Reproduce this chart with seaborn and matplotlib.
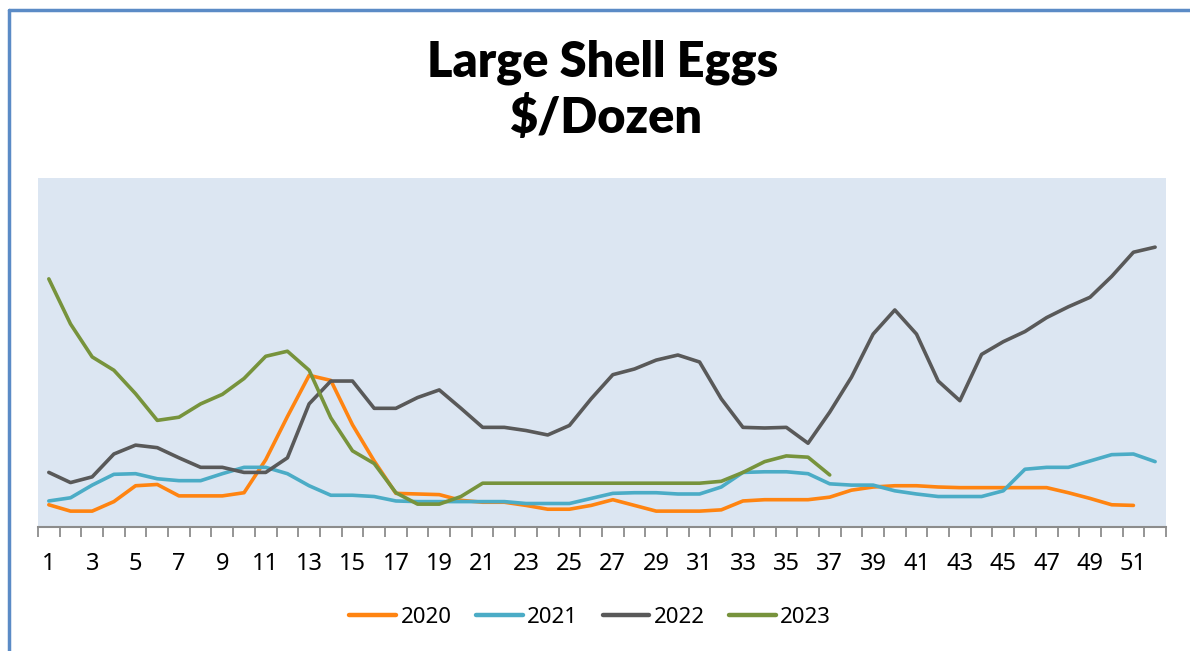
import numpy as np
import pandas as pd
import matplotlib
matplotlib.use("Agg")
import matplotlib.pyplot as plt
import seaborn as sns
from matplotlib.lines import Line2D

#--------------------DATA ($/dozen)------------------

weeks = list(range(1, 53))

eggs_2020 = [0.85, 0.75, 0.75, 0.90, 1.15, 1.17, 0.99, 0.99, 0.99, 1.04,
             1.56, 2.24, 2.89, 2.81, 2.11, 1.54, 1.03, 1.02, 1.01, 0.92,
             0.89, 0.89, 0.84, 0.78, 0.78, 0.84, 0.93, 0.84, 0.75, 0.75,
             0.75, 0.77, 0.91, 0.93, 0.93, 0.93, 0.97, 1.08, 1.13, 1.15,
             1.15, 1.13, 1.12, 1.12, 1.12, 1.12, 1.12, 1.04, 0.95, 0.85,
             0.84]

eggs_2021 = [0.91, 0.96, 1.16, 1.33, 1.34, 1.26, 1.23, 1.23, 1.34, 1.44,
             1.44, 1.34, 1.15, 1.00, 1.00, 0.98, 0.91, 0.90, 0.90, 0.90,
             0.90, 0.90, 0.87, 0.87, 0.87, 0.95, 1.03, 1.04, 1.04, 1.02,
             1.02, 1.13, 1.36, 1.37, 1.37, 1.34, 1.18, 1.16, 1.16, 1.07,
             1.02, 0.98, 0.98, 0.98, 1.07, 1.41, 1.44, 1.44, 1.54, 1.64,
             1.65, 1.53]

eggs_2022 = [1.36, 1.20, 1.29, 1.65, 1.79, 1.75, 1.59, 1.44, 1.44, 1.36,
             1.36, 1.59, 2.44, 2.80, 2.80, 2.37, 2.37, 2.54, 2.66, 2.37,
             2.07, 2.07, 2.02, 1.95, 2.10, 2.52, 2.90, 2.99, 3.13, 3.21,
             3.10, 2.52, 2.07, 2.06, 2.07, 1.82, 2.31, 2.86, 3.54, 3.92,
             3.54, 2.80, 2.49, 3.22, 3.42, 3.58, 3.80, 3.97, 4.12, 4.45,
             4.83, 4.91]

eggs_2023 = [4.41, 3.70, 3.18, 2.97, 2.60, 2.18, 2.23, 2.44, 2.59, 2.84,
             3.19, 3.27, 2.97, 2.22, 1.70, 1.50, 1.04, 0.86, 0.86, 0.98,
             1.19, 1.19, 1.19, 1.19, 1.19, 1.19, 1.19, 1.19, 1.19, 1.19,
             1.19, 1.22, 1.36, 1.53, 1.62, 1.60, 1.32]

years = ["2020", "2021", "2022", "2023"]
series = [eggs_2020, eggs_2021, eggs_2022, eggs_2023]
colours = ["#FF8411", "#4BACC6", "#595959", "#77933C"]

# long format for seaborn
frames = []
for yr, vals in zip(years, series):
    frames.append(pd.DataFrame({"week": weeks[:len(vals)], "price": vals, "year": yr}))
data = pd.concat(frames, ignore_index=True)

#--------------------PLOT-----------------------

sns.set_style("white")
plt.rcParams["font.family"] = ["Noto Sans", "DejaVu Sans"]
plt.rcParams["text.color"] = "black"

fig = plt.figure(figsize=(11.9, 6.51), dpi=100)
ax = fig.add_axes([0.0319, 0.1905, 0.9479, 0.5361])
ax.set_facecolor("#DCE6F2")

sns.lineplot(data=data, x="week", y="price", hue="year", hue_order=years,
             palette=dict(zip(years, colours)), linewidth=2.6,
             ax=ax, legend=False, sort=False)

ax.set_xlim(0.5, 52.5)
ax.set_ylim(0.5, 6.0)
ax.set_xlabel("")
ax.set_ylabel("")
ax.set_yticks([])

# category axis: labels on odd weeks, tick marks between categories
ax.set_xticks(weeks[::2])
ax.set_xticklabels([str(w) for w in weeks[::2]], fontsize=17, color="black")
ax.set_xticks(np.arange(0.5, 53, 1), minor=True)
ax.tick_params(axis="x", which="major", length=0, pad=18)
ax.tick_params(axis="x", which="minor", length=7, width=1.3, color="#8C8C8C",
               direction="out", bottom=True)

for s in ["top", "left", "right"]:
    ax.spines[s].set_visible(False)
ax.spines["bottom"].set_color("#8C8C8C")
ax.spines["bottom"].set_linewidth(1.5)

# title
fig.text(0.506, 0.905, "Large Shell Eggs", ha="center", va="center",
         fontsize=35, fontweight="heavy", family="Lato", color="black")
fig.text(0.509, 0.818, "$/Dozen", ha="center", va="center",
         fontsize=35, fontweight="heavy", family="Lato", color="black")

# legend
handles = [Line2D([0], [0], color=c, lw=3.2) for c in colours]
fig.legend(handles, years, loc="center", bbox_to_anchor=(0.496, 0.052),
           ncol=4, frameon=False, fontsize=16, handlelength=2.1,
           handletextpad=0.2, columnspacing=1.1)

# blue frame on the left and top edges
fig.add_artist(Line2D([0.0076, 0.0076], [0.0, 0.984], color="#5B8BC6",
                      lw=2.5, transform=fig.transFigure))
fig.add_artist(Line2D([0.0076, 1.0], [0.984, 0.984], color="#5B8BC6",
                      lw=2.5, transform=fig.transFigure))

plt.savefig("out.png", dpi=100)
